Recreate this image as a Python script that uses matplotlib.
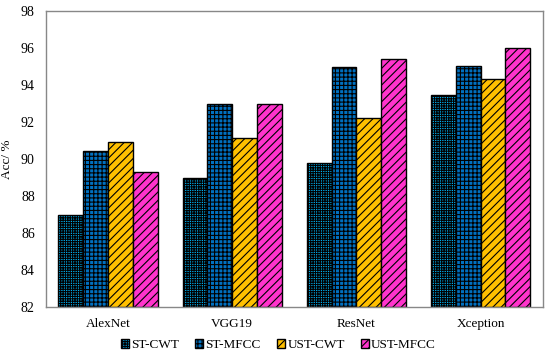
import matplotlib
import numpy as np

matplotlib.use('Agg')
import matplotlib.pyplot as plt

plt.rcParams['font.family'] = ['Liberation Serif', 'DejaVu Serif']
plt.rcParams['hatch.linewidth'] = 0.8

models = ['AlexNet', 'VGG19', 'ResNet', 'Xception']
st_cwt = [87.0, 89.0, 89.8, 93.45]
st_mfcc = [90.43, 93.0, 95.0, 95.03]
ust_cwt = [90.9, 91.15, 92.2, 94.35]
ust_mfcc = [89.3, 92.97, 95.42, 95.98]

series = [
    ('ST-CWT', st_cwt, '#00B0F0', '+++++++'),
    ('ST-MFCC', st_mfcc, '#0070C0', '++++'),
    ('UST-CWT', ust_cwt, '#FFC000', '////'),
    ('UST-MFCC', ust_mfcc, '#FF33CC', '////'),
]

fig = plt.figure(figsize=(5.5, 3.55), dpi=100)
ax = fig.add_axes([0.0836, 0.135, 0.903, 0.834])

x = np.arange(len(models))
w = 0.2
for i, (name, vals, color, hatch) in enumerate(series):
    ax.bar(x + (i - 1.5) * w, np.array(vals) - 82, w, bottom=82,
           color=color, edgecolor='black', linewidth=1.0, hatch=hatch, label=name)

ax.set_xlim(-0.5, len(models) - 0.5)
ax.set_ylim(82, 98)
ax.set_yticks(range(82, 99, 2))
ax.set_xticks(x)
ax.set_xticklabels(models)
ax.tick_params(axis='y', length=0, labelsize=10, pad=8)
ax.tick_params(axis='x', length=0, labelsize=9.5, pad=8)
ax.set_ylabel('Acc/ %', fontsize=9.5, labelpad=6)
for s in ax.spines.values():
    s.set_color('#888888')
    s.set_linewidth(1.0)

ax.legend(loc='center', bbox_to_anchor=(0.468, -0.128), ncol=4, frameon=False,
          fontsize=9.5, handlelength=0.6, handleheight=0.6, handletextpad=0.2,
          columnspacing=1.2, borderpad=0)

fig.savefig('out.png', dpi=100)
